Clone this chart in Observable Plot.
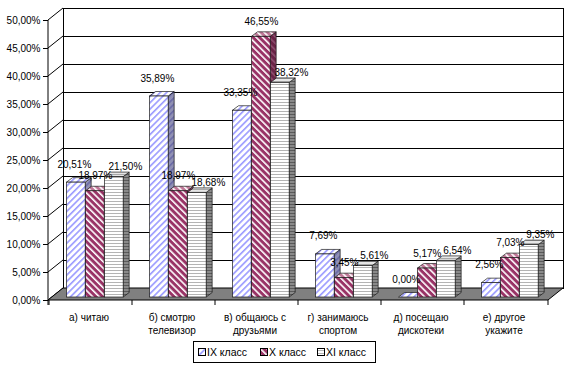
<!DOCTYPE html>
<html><head><meta charset="utf-8">
<script src="https://cdn.jsdelivr.net/npm/d3@7"></script>
<script src="https://cdn.jsdelivr.net/npm/@observablehq/plot@0.6"></script>
<style>
body{margin:0;background:#fff;font-family:"Liberation Sans",Arial,sans-serif;}
#wrap{position:relative;width:570px;height:368px;overflow:hidden;}
#legend{position:absolute;left:193px;top:341px;}
</style></head><body><div id="wrap"></div>
<script>
// ---- data ----
const categories = ["а) читаю", "б) смотрю\nтелевизор", "в) общаюсь с\nдрузьями", "г) занимаюсь\nспортом", "д) посещаю\nдискотеки", "е) другое\nукажите"];
const seriesNames = ["IX класс", "X класс", "XI класс"];
const ixValues = [20.51, 35.89, 33.35, 7.69, 0.00, 2.56];
const xValues  = [18.97, 18.97, 46.55, 3.45, 5.17, 7.03];
const xiValues = [21.50, 18.68, 38.32, 5.61, 6.54, 9.35];
const yTicks = [0, 5, 10, 15, 20, 25, 30, 35, 40, 45, 50];

const seriesValues = [ixValues, xValues, xiValues];
const rows = seriesNames.flatMap((s, si) => categories.map((c, ci) => ({cat: c, series: s, si, value: seriesValues[si][ci]})));

// ---- layout / style ----
const W = 570, H = 338, ML = 48, MR = 22, MT = 20, MB = 38;
const WALL_DX = 15, WALL_DY = -12;
const BAR_DX = 6, BAR_DY = -4.5;
const BW = (W - ML - MR) / categories.length;
const SLOT = 19, LEAD = 17.5;
const labelShiftX = [-2, 0, 11];
const labelShiftY = [-18, -15, -10];
const fmt = v => v.toFixed(2).replace(".", ",") + "%";
const FONT = "'Liberation Sans', Arial, sans-serif";

function bar3d(si) {
  return Plot.barY(rows.filter(d => d.si === si), {
    x: "cat", y: "value",
    insetLeft: LEAD + si * SLOT, insetRight: BW - LEAD - (si + 1) * SLOT,
    dy: -3, fill: `url(#front${si})`, stroke: "#1a1a1a", strokeWidth: 0.7,
    render(index, scales, values, dims, ctx, next) {
      const g = next(index, scales, values, dims, ctx);
      g.querySelectorAll("rect").forEach(r => {
        const x = +r.getAttribute("x"), y = +r.getAttribute("y");
        const w = +r.getAttribute("width"), h = +(r.getAttribute("height") || 0);
        const ns = "http://www.w3.org/2000/svg";
        const side = document.createElementNS(ns, "polygon");
        side.setAttribute("points", [[x + w, y], [x + w + BAR_DX, y + BAR_DY], [x + w + BAR_DX, y + h + BAR_DY], [x + w, y + h]].join(" "));
        side.setAttribute("fill", `url(#side${si})`);
        const top = document.createElementNS(ns, "polygon");
        top.setAttribute("points", [[x, y], [x + w, y], [x + w + BAR_DX, y + BAR_DY], [x + BAR_DX, y + BAR_DY]].join(" "));
        top.setAttribute("fill", `url(#top${si})`);
        g.insertBefore(side, r);
        g.insertBefore(top, r);
      });
      return g;
    }
  });
}

function labels(si) {
  const center = LEAD + si * SLOT + SLOT / 2 - BW / 2;
  return Plot.text(rows.filter(d => d.si === si), {
    x: "cat", y: "value", text: d => fmt(d.value),
    dx: center + labelShiftX[si], dy: labelShiftY[si], lineAnchor: "bottom", fontSize: 10, fill: "#000"
  });
}

function chrome(index, scales, values, dims) {
  const x0 = dims.marginLeft, x1 = dims.width - dims.marginRight;
  const yb = dims.height - dims.marginBottom;
  const g = d3.create("svg:g").attr("stroke", "#000").attr("stroke-width", 1);
  for (const t of yTicks) {
    const y = scales.y(t);
    g.append("line").attr("x1", x0).attr("y1", y).attr("x2", x0 + WALL_DX).attr("y2", y + WALL_DY);
  }
  g.append("line").attr("x1", x0).attr("x2", x0).attr("y1", scales.y(yTicks[yTicks.length - 1])).attr("y2", yb + 5);
  g.append("polygon")
    .attr("points", [[x0, yb], [x1, yb], [x1 + WALL_DX, yb + WALL_DY], [x0 + WALL_DX, yb + WALL_DY]].join(" "))
    .attr("fill", "#808080");
  for (let i = 0; i <= categories.length; i++) {
    const x = i < categories.length ? scales.x(categories[i]) : x1;
    g.append("line").attr("x1", x).attr("x2", x).attr("y1", yb).attr("y2", yb + 5);
  }
  return g.node();
}

const svg = Plot.plot({
  width: W, height: H,
  marginLeft: ML, marginRight: MR, marginTop: MT, marginBottom: MB,
  style: {fontFamily: FONT, fontSize: "10px", color: "#000", background: "#fff"},
  x: {domain: categories, padding: 0, axis: null},
  y: {domain: [0, 50], label: null},
  marks: [
    Plot.frame({dx: WALL_DX, dy: WALL_DY, stroke: "#000", fill: "#fff"}),
    Plot.ruleY(yTicks, {dx: WALL_DX, dy: WALL_DY, stroke: "#000", strokeWidth: 1}),
    chrome,
    bar3d(0), bar3d(1), bar3d(2),
    labels(0), labels(1), labels(2),
    Plot.text(categories, {x: d => d, frameAnchor: "bottom", dy: 11, dx: -2, lineAnchor: "top", lineHeight: 1.34, fontSize: 10, fill: "#000"}),
    Plot.axisY(yTicks, {tickSize: 5, tickPadding: 3, tickFormat: fmt, fontSize: 10, stroke: "#000", fill: "#000"})
  ]
});

function addPatterns(sel) {
  const defs = sel.insert("defs", ":first-child");
  function stripes(id, bg, fg, size, thick, angle) {
    const p = defs.append("pattern").attr("id", id).attr("patternUnits", "userSpaceOnUse")
      .attr("width", size).attr("height", size).attr("patternTransform", `rotate(${angle})`);
    p.append("rect").attr("width", size).attr("height", size).attr("fill", bg);
    p.append("rect").attr("width", thick).attr("height", size).attr("fill", fg);
  }
  function hlines(id, bg, fg, size, thick) {
    const p = defs.append("pattern").attr("id", id).attr("patternUnits", "userSpaceOnUse")
      .attr("width", 8).attr("height", size);
    p.append("rect").attr("width", 8).attr("height", size).attr("fill", bg);
    p.append("rect").attr("width", 8).attr("height", thick).attr("fill", fg);
  }
  stripes("front0", "#ffffff", "#9999ff", 4.5, 1.6, 45);
  stripes("top0", "#ffffff", "#9999ff", 4.5, 1.6, 45);
  stripes("side0", "#9090b4", "#6a6aa6", 4.5, 1.6, 45);
  stripes("front1", "#993366", "#ffffff", 4.6, 1.6, -45);
  stripes("top1", "#c07898", "#ffffff", 4.6, 1.6, -45);
  stripes("side1", "#6b2347", "#8e4f6f", 4.6, 1.6, -45);
  hlines("front2", "#ffffff", "#b4b4b4", 3, 1);
  hlines("top2", "#e6e6e6", "#a8a8a8", 3, 1);
  hlines("side2", "#8a8a8a", "#5a5a5a", 3, 1);
}
addPatterns(d3.select(svg));
svg.style.display = "block";
document.getElementById("wrap").appendChild(svg);

// ---- legend ----
const leg = d3.select("#wrap").append("svg").attr("id", "legend").attr("width", 184).attr("height", 23);
addPatterns(leg);
leg.append("rect").attr("x", 0.5).attr("y", 0.5).attr("width", 182).attr("height", 21).attr("fill", "#fff").attr("stroke", "#000");
const itemX = [5, 67, 124];
seriesNames.forEach((s, i) => {
  leg.append("rect").attr("x", itemX[i] + 0.5).attr("y", 7.5).attr("width", 7).attr("height", 7)
    .attr("fill", `url(#front${i})`).attr("stroke", "#000").attr("stroke-width", 1);
  leg.append("text").attr("x", itemX[i] + 9).attr("y", 15).attr("font-family", FONT).attr("font-size", 10.5)
    .attr("fill", "#000").text(s);
});
</script></body></html>
